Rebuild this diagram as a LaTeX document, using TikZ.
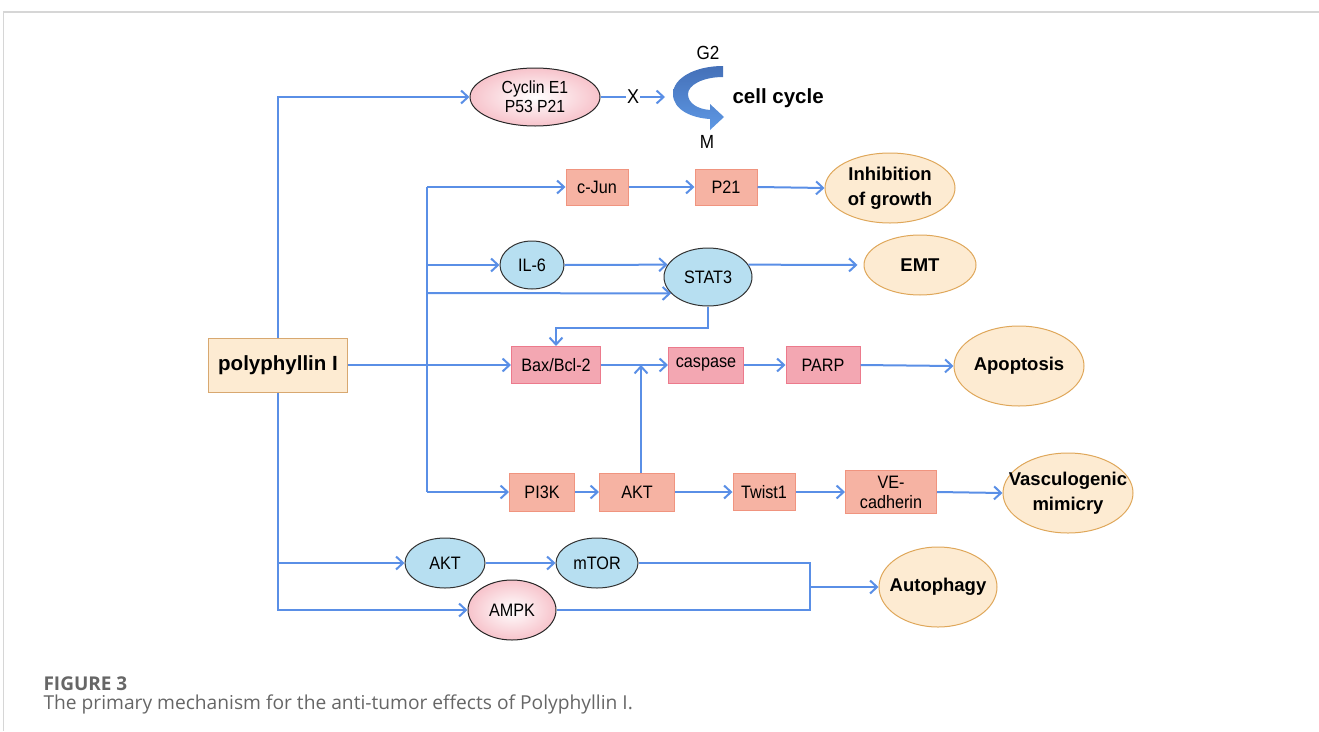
\documentclass[tikz,border=0pt]{standalone}
\usepackage{fontspec}
\setmainfont{Liberation Sans}
\newfontfamily\labfont{Liberation Sans}[FakeStretch=0.9]
\newfontfamily\capfont{Open Sans}
\usetikzlibrary{arrows.meta,shapes.geometric}
\definecolor{bl}{HTML}{5A8FE6}
\definecolor{salF}{HTML}{F6B3A3}
\definecolor{salD}{HTML}{F0947F}
\definecolor{pnkF}{HTML}{F3A7B2}
\definecolor{pnkD}{HTML}{EC7A8C}
\definecolor{eblue}{HTML}{B7DFF1}
\definecolor{epink}{HTML}{F7C3CB}
\definecolor{orF}{HTML}{FDEBD2}
\definecolor{orD}{HTML}{DFA75A}
\definecolor{polD}{HTML}{D8A870}
\definecolor{capgray}{HTML}{666666}
\definecolor{frame}{HTML}{D6D6D6}
\definecolor{ccdark}{HTML}{4470B8}
\definecolor{cclight}{HTML}{5E98E4}
\begin{document}
\begin{tikzpicture}[x=1pt,y=-1pt,
  conn/.style={draw=bl,line width=2pt},
  arr/.style={conn,-{Straight Barb[length=7pt,width=13pt]}},
  lbl/.style={font=\labfont\fontsize{18}{20}\selectfont,align=center},
  sbox/.style={rectangle,draw=salD,fill=salF,line width=1pt,inner sep=0pt,lbl},
  pbox/.style={rectangle,draw=pnkD,fill=pnkF,line width=1pt,inner sep=0pt,lbl},
  bell/.style={ellipse,draw=black!80,fill=eblue,line width=1pt,inner sep=-12pt,lbl},
  pell/.style={ellipse,draw=black!85,inner color=white,outer color=epink,line width=1pt,inner sep=-12pt,lbl},
  oell/.style={ellipse,draw=orD,fill=orF,line width=1pt,inner sep=-15pt,align=center,
    font=\fontsize{18.5}{25}\selectfont\bfseries},
]
\useasboundingbox (0,0) rectangle (1319,731);
% frame
\draw[frame,line width=2pt] (3,12) -- (1319,12);
\draw[frame,line width=1pt] (3,12) -- (3,731);

% nodes
\node[rectangle,draw=polD,fill=orF,line width=1pt,minimum width=139pt,minimum height=54pt,
  font=\fontsize{20.5}{24}\selectfont\bfseries] (poly) at (278,365) {polyphyllin I};
\node[pell,minimum width=130pt,minimum height=58pt,font=\labfont\fontsize{17.5}{19}\selectfont] (cyc) at (535,97) {Cyclin E1\\P53 P21};
\node[sbox,minimum width=62pt,minimum height=36pt] (cjun) at (597,187) {c-Jun};
\node[sbox,minimum width=62pt,minimum height=36pt] (p21) at (726,187) {P21};
\node[oell,minimum width=130pt,minimum height=70pt] (inh) at (890,188) {Inhibition\\of growth};
\node[bell,minimum width=64pt,minimum height=48pt] (il6) at (532,265) {IL-6};
\node[bell,minimum width=88pt,minimum height=58pt] (stat3) at (708,277) {STAT3};
\node[oell,minimum width=112pt,minimum height=60pt] (emt) at (920,265) {EMT};
\node[pbox,minimum width=89pt,minimum height=37pt] (bax) at (556,365) {Bax/Bcl-2};
\node[pbox,minimum width=75pt,minimum height=36pt] (casp) at (706,365) {caspase};
\node[pbox,minimum width=74pt,minimum height=37pt] (parp) at (823,365) {PARP};
\node[oell,minimum width=130pt,minimum height=80pt] (apop) at (1019,366) {Apoptosis};
\node[sbox,minimum width=65pt,minimum height=38pt] (pi3k) at (542,492) {PI3K};
\node[sbox,minimum width=75pt,minimum height=38pt] (akt) at (637,492) {AKT};
\node[sbox,minimum width=62pt,minimum height=37pt] (twist) at (764,492) {Twist1};
\node[sbox,minimum width=91pt,minimum height=43pt] (vecad) at (891,492) {VE-\\cadherin};
\node[oell,minimum width=130pt,minimum height=80pt] (vasc) at (1068,493) {Vasculogenic\\mimicry};
\node[bell,minimum width=80pt,minimum height=50pt] (akt2) at (445,563) {AKT};
\node[bell,minimum width=82pt,minimum height=50pt] (mtor) at (597,563) {mTOR};
\node[pell,minimum width=88pt,minimum height=60pt] (ampk) at (512,610) {AMPK};
\node[oell,minimum width=118pt,minimum height=80pt] (auto) at (938,587) {Autophagy};

% cell cycle symbol
\shade[top color=ccdark,bottom color=cclight]
  (723,66) .. controls (695,66) and (673,78) .. (673,94)
  .. controls (673,110) and (692,118) .. (710,119)
  -- (710,130) -- (724,117) -- (710,104) -- (710,110)
  .. controls (697,109) and (688,103) .. (688,94)
  .. controls (688,85) and (703,77) .. (723,77) -- cycle;
\node[font=\labfont\fontsize{19}{20}\selectfont] (g2) at (708,53) {G2};
\node[font=\labfont\fontsize{19}{20}\selectfont] (mm) at (707,142) {M};
\node[font=\fontsize{20.5}{24}\selectfont\bfseries,anchor=west] (cc) at (729,98) {cell cycle};
\coordinate (ccin) at (665,97);

% connectors
\coordinate (v1) at (427,187);
\coordinate (v2) at (427,265);
\coordinate (v3) at (427,293);
\coordinate (v4) at (427,492);
\coordinate (b1) at (278,563);
\coordinate (sb) at (556,328);
\coordinate (j) at (641,365);
\coordinate (m) at (810,587);

\draw[arr] (poly.north) |- (cyc.west);
\draw[arr] (poly.south) |- (ampk.west);
\draw[arr] (b1) -- (akt2.west);
\draw[arr] (poly.east) -- (bax.west);
\draw[arr] (cyc.east) -- (ccin);
\node[font=\labfont\fontsize{20}{20}\selectfont,fill=white,inner sep=1pt] (xx) at (633,97) {X};

\draw[conn] (v1) -- (v4);
\draw[arr] (v1) -- (cjun.west);
\draw[arr] (cjun.east) -- (p21.west);
\draw[arr] (p21.east) -- (inh.west);
\draw[arr] (v2) -- (il6.west);
\draw[arr] (il6.east) -- (stat3.163);
\draw[arr] (v3) -- (stat3.204);
\draw[arr,shorten >=6pt] (stat3.17) -- (emt.west);
\draw[arr] (stat3.south) |- (sb) -- (bax.north);
\draw[arr] (bax.east) -- (casp.west);
\draw[arr] (akt.north -| j) -- (j);
\draw[arr] (casp.east) -- (parp.west);
\draw[arr] (parp.east) -- (apop.west);
\draw[arr] (v4) -- (pi3k.west);
\draw[arr] (pi3k.east) -- (akt.west);
\draw[arr] (akt.east) -- (twist.west);
\draw[arr] (twist.east) -- (vecad.west);
\draw[arr] (vecad.east) -- (vasc.west);
\draw[arr] (akt2.east) -- (mtor.west);
\draw[conn] (mtor.east) -| (m) |- (ampk.east);
\draw[arr] (m) -- (auto.west);

% caption
\node[anchor=base west,font=\capfont\fontsize{19}{20}\selectfont\bfseries,text=capgray] (fig) at (40,690) {FIGURE 3};
\node[anchor=base west,font=\capfont\fontsize{19.2}{20}\selectfont,text=capgray] (cap) at (40,709) {The primary mechanism for the anti-tumor effects of Polyphyllin I.};
\end{tikzpicture}
\end{document}
